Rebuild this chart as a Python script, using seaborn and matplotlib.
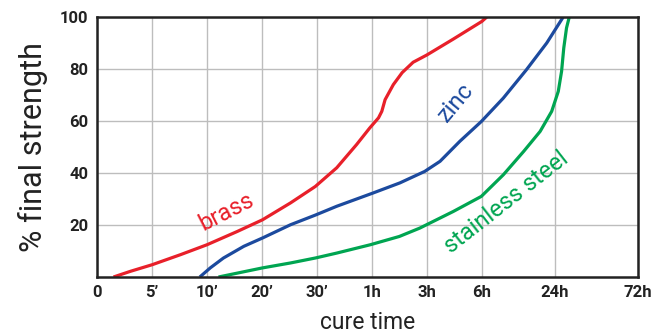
import numpy as np
import pandas as pd
import matplotlib
matplotlib.use("Agg")
import matplotlib.pyplot as plt
import seaborn as sns

# ── Data (x in "tick units": 0=0, 1=5', ... 7=6h, 8.33=24h, 9.84=72h) ──────
tick_labels = ["0", "5\u2019", "10\u2019", "20\u2019", "30\u2019", "1h", "3h", "6h", "24h", "72h"]
tick_pos    = [0, 1, 2, 3, 4, 5, 6, 7, 8.33, 9.84]

brass_x = [0.30, 0.61, 1.0, 1.52, 2.0, 2.55, 3.01, 3.52, 3.97, 4.36, 4.72, 4.96,
           5.12, 5.18, 5.24, 5.39, 5.55, 5.75, 6.0, 6.48, 7.0, 7.09]
brass_y = [0.0, 2.2, 4.7, 8.6, 12.4, 17.5, 22.0, 28.5, 34.8, 42.0, 50.9, 57.3,
           61.2, 63.7, 68.2, 74.0, 78.6, 82.6, 85.4, 91.5, 98.3, 100.0]

zinc_x = [1.87, 2.06, 2.30, 2.67, 3.01, 3.52, 3.97, 4.36, 5.02, 5.51, 5.96,
          6.24, 6.6, 6.99, 7.39, 7.81, 8.18, 8.48]
zinc_y = [0.0, 3.5, 7.3, 11.8, 15.0, 20.1, 23.8, 27.2, 32.3, 36.2, 40.6,
          44.5, 52.2, 59.8, 68.8, 79.7, 90.0, 100.0]

steel_x = [2.21, 3.01, 3.52, 3.97, 4.36, 4.97, 5.5, 5.87, 6.48, 6.99, 7.39,
           7.76, 8.06, 8.27, 8.39, 8.45, 8.49, 8.54, 8.59]
steel_y = [0.0, 3.5, 5.4, 7.3, 9.2, 12.4, 15.6, 18.8, 25.2, 31.0, 39.3,
           48.3, 56.0, 63.7, 71.4, 79.1, 88.1, 95.8, 100.0]

y_ticks = [20, 40, 60, 80, 100]

df = pd.concat([
    pd.DataFrame({"x": brass_x, "y": brass_y, "metal": "brass"}),
    pd.DataFrame({"x": zinc_x, "y": zinc_y, "metal": "zinc"}),
    pd.DataFrame({"x": steel_x, "y": steel_y, "metal": "stainless steel"}),
])

COLORS = {"brass": "#e8202a", "zinc": "#1c4a9e", "stainless steel": "#00a551"}
INK = "#222222"

sns.set_style("white")
plt.rcParams["font.family"] = ["Roboto", "DejaVu Sans"]

fig = plt.figure(figsize=(6.54, 3.33), dpi=100)
ax = fig.add_axes([97 / 654, 1 - 277 / 333, 541 / 654, 260 / 333])

sns.lineplot(data=df, x="x", y="y", hue="metal", palette=COLORS, sort=False,
             estimator=None, lw=2.3, legend=False, ax=ax,
             solid_joinstyle="round", solid_capstyle="butt")

ax.set_xlim(0, 9.84)
ax.set_ylim(0, 100)
ax.set_xticks(tick_pos)
ax.set_xticklabels(tick_labels, fontweight="bold", fontsize=12, color=INK)
ax.set_yticks(y_ticks)
ax.set_yticklabels([str(v) for v in y_ticks], fontweight="bold", fontsize=12, color=INK)
ax.tick_params(length=0, pad=6)
ax.grid(True, color="#bdbdbd", lw=1.0)
ax.set_axisbelow(True)
for spine in ax.spines.values():
    spine.set_edgecolor(INK)
    spine.set_linewidth(1.8)

ax.set_xlabel("cure time", fontsize=16.5, color=INK, labelpad=8)
ax.set_ylabel("% final strength", fontsize=22, color=INK, labelpad=9)

# curve labels
ax.text(2.35, 25.1, "brass", color=COLORS["brass"], fontsize=17, rotation=27,
        ha="center", va="center", rotation_mode="anchor")
ax.text(6.53, 67.2, "zinc", color=COLORS["zinc"], fontsize=17, rotation=50,
        ha="center", va="center", rotation_mode="anchor")
ax.text(7.44, 28.8, "stainless steel", color=COLORS["stainless steel"], fontsize=17,
        rotation=38, ha="center", va="center", rotation_mode="anchor")

fig.savefig("out.png", dpi=100)
